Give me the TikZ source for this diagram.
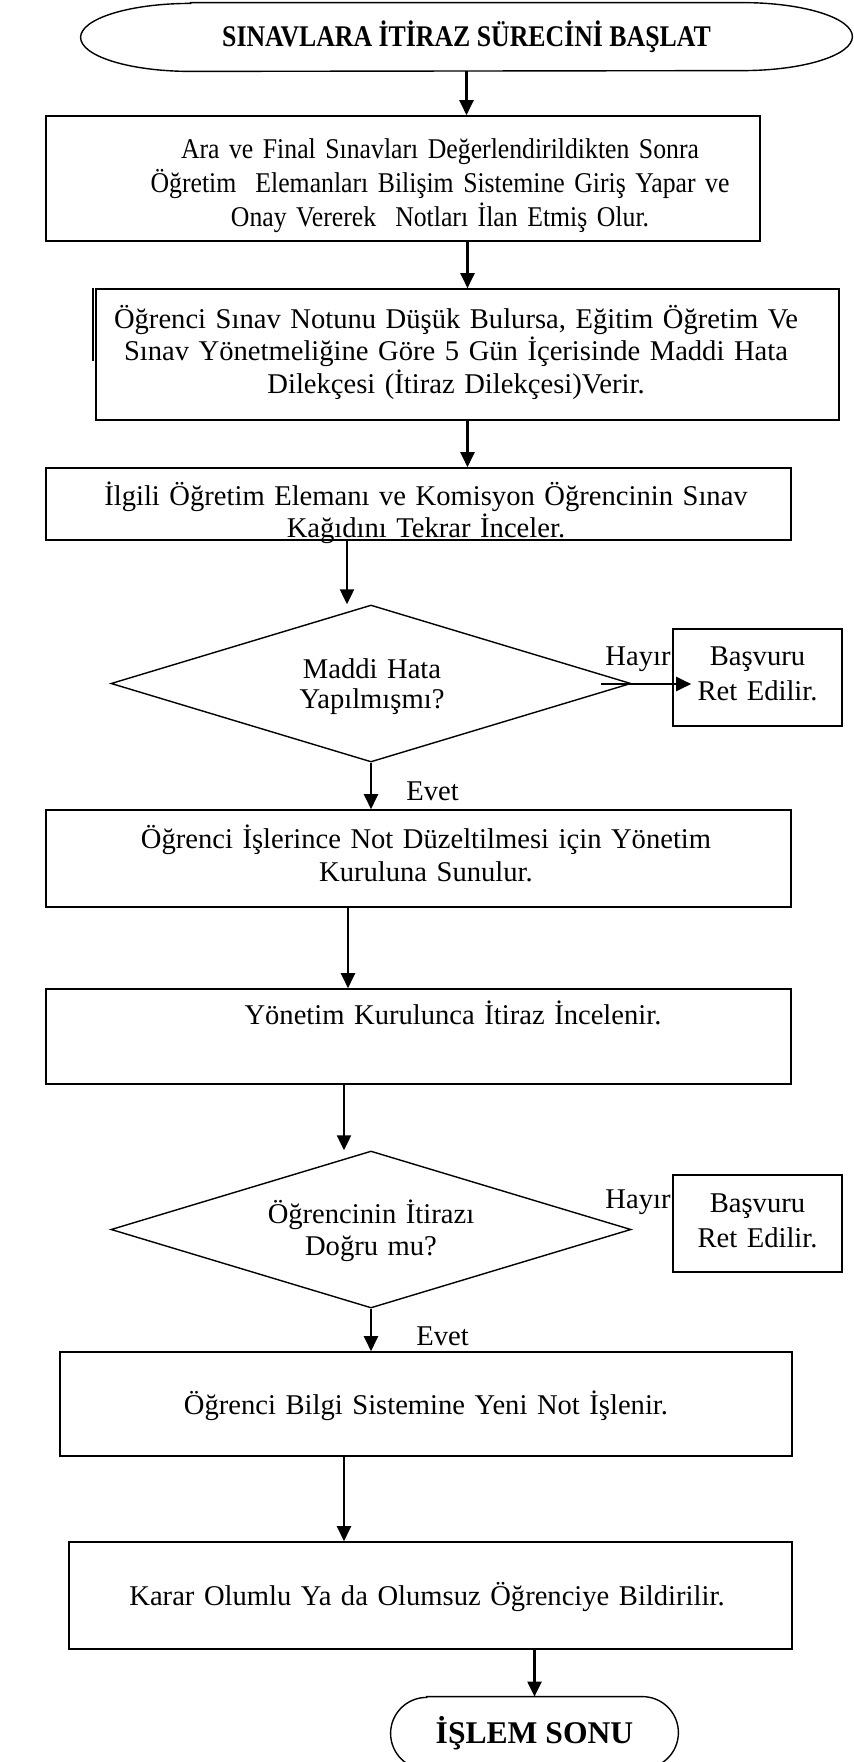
\documentclass[tikz,border=0pt]{standalone}
\usepackage{fontspec}
\setmainfont{Liberation Serif}
\newfontfamily\narrowserif{Liberation Serif}[FakeStretch=0.9]
\newfontfamily\titleserif{Liberation Serif}[FakeStretch=0.86]
\usetikzlibrary{arrows.meta,shapes.geometric}
\begin{document}
\begin{tikzpicture}[x=0.5pt,y=-0.5pt,
  boxline/.style={draw, line width=0.8pt, inner sep=0pt},
  diamondline/.style={draw, diamond, line width=0.7pt, inner sep=0pt},
  termline/.style={line width=0.7pt},
  txt/.style={font=\fontsize{14.3}{16.5}\selectfont, text width=380pt, align=center, anchor=base, inner sep=0pt},
  lbl/.style={font=\fontsize{14.3}{16.5}\selectfont, anchor=base, inner sep=0pt},
  arr/.style={line width=1.1pt, -{Triangle[length=7.5pt,width=7pt]}}]
\useasboundingbox (0,0) rectangle (854,1762);

% start terminator
\node[inner sep=0pt, minimum width=385.5pt, minimum height=34pt,
      font=\titleserif\bfseries\fontsize{15}{17}\selectfont] (start) at (466.5,37) {SINAVLARA İTİRAZ SÜRECİNİ BAŞLAT};
\draw[termline] ([xshift=55pt]start.north west) -- ([xshift=-55pt]start.north east)
  arc[start angle=90,end angle=-90,x radius=55pt,y radius=17pt]
  -- ([xshift=55pt]start.south west)
  arc[start angle=270,end angle=90,x radius=55pt,y radius=17pt] -- cycle;

% process boxes
\node[boxline, minimum width=357pt, minimum height=62.5pt] (b1) at (403,178.5) {};
\node[txt, font=\narrowserif\fontsize{14.3}{17}\selectfont] (b1t) at (440,158)
  {Ara ve Final Sınavları Değerlendirildikten Sonra\\Öğretim\ \ Elemanları Bilişim Sistemine Giriş Yapar ve\\Onay Vererek\ \ Notları İlan Etmiş Olur.};

\node[boxline, minimum width=371.5pt, minimum height=65.5pt] (b2) at (467.5,354.5) {};
\draw[line width=0.8pt] ([xshift=-1.2pt]b2.north west) -- ++(0,73);
\node[txt, font=\fontsize{14.3}{16.25}\selectfont] (b2t) at (456,328)
  {Öğrenci Sınav Notunu Düşük Bulursa, Eğitim Öğretim Ve\\Sınav Yönetmeliğine Göre 5 Gün İçerisinde Maddi Hata\\Dilekçesi (İtiraz Dilekçesi)Verir.};

\node[boxline, minimum width=372.5pt, minimum height=36pt] (b3) at (418.5,504) {};
\node[txt, font=\fontsize{14.3}{16}\selectfont] (b3t) at (426,505)
  {İlgili Öğretim Elemanı ve Komisyon Öğrencinin Sınav\\Kağıdını Tekrar İnceler.};

% first decision
\node[diamondline, minimum width=260pt, minimum height=78.5pt] (d1) at (371,683.5) {};
\node[txt, font=\fontsize{14.3}{15}\selectfont] (d1t) at (372,678) {Maddi Hata\\Yapılmışmı?};
\node[boxline, minimum width=84.5pt, minimum height=48.5pt] (r1) at (757.5,677.5) {};
\node[txt, font=\fontsize{14.3}{17.5}\selectfont] (r1t) at (757.5,665) {Başvuru\\Ret Edilir.};
\node[lbl] (h1) at (638,665) {Hayır};
\node[lbl, anchor=base west] (e1) at (406,800) {Evet};
\coordinate (h1s) at (601,684);

\node[boxline, minimum width=372.5pt, minimum height=48.5pt] (b4) at (418.5,858.5) {};
\node[txt] (b4t) at (426,848) {Öğrenci İşlerince Not Düzeltilmesi için Yönetim\\Kuruluna Sunulur.};

\node[boxline, minimum width=372.5pt, minimum height=47.5pt] (b5) at (418.5,1036.5) {};
\node[txt] (b5t) at (453,1024) {Yönetim Kurulunca İtiraz İncelenir.};

% second decision
\node[diamondline, minimum width=260pt, minimum height=78.5pt] (d2) at (371,1229.5) {};
\node[txt, font=\fontsize{14.3}{16}\selectfont] (d2t) at (371,1223) {Öğrencinin İtirazı\\Doğru mu?};
\node[boxline, minimum width=84.5pt, minimum height=48.5pt] (r2) at (757.5,1223.5) {};
\node[txt, font=\fontsize{14.3}{17.5}\selectfont] (r2t) at (757.5,1212) {Başvuru\\Ret Edilir.};
\node[lbl] (h2) at (638,1208) {Hayır};
\node[lbl, anchor=base west] (e2) at (416,1345) {Evet};

\node[boxline, minimum width=366pt, minimum height=52pt] (b6) at (426,1404) {};
\node[txt] (b6t) at (426,1414) {Öğrenci Bilgi Sistemine Yeni Not İşlenir.};

\node[boxline, minimum width=361.5pt, minimum height=53.5pt] (b7) at (430.5,1595.5) {};
\node[txt] (b7t) at (427,1605) {Karar Olumlu Ya da Olumsuz Öğrenciye Bildirilir.};

% end terminator
\node[inner sep=0pt, minimum width=143.5pt, minimum height=36pt,
      font=\bfseries\fontsize{15.8}{18}\selectfont] (stop) at (534.5,1733) {İŞLEM SONU};
\draw[termline] ([xshift=18pt]stop.north west) -- ([xshift=-18pt]stop.north east)
  arc[start angle=90,end angle=-90,radius=18pt]
  -- ([xshift=18pt]stop.south west)
  arc[start angle=270,end angle=90,radius=18pt] -- cycle;

% connectors
\draw[arr] (start.south) -- (start.south |- b1.north);
\draw[arr] (b2.north |- b1.south) -- (b2.north);
\draw[arr] (b2.south) -- (b2.south |- b3.north);
\draw[arr] ([xshift=-35.75pt]b3.south) -- ([xshift=-35.75pt]b3.south |- d1.north);
\draw[arr, shorten >=-9.5pt] (h1s) -- (h1s -| r1.west);
\draw[arr] (d1.south) -- (d1.south |- b4.north);
\draw[arr] ([xshift=-35.25pt]b4.south) -- ([xshift=-35.25pt]b4.south |- b5.north);
\draw[arr] ([xshift=-37.25pt]b5.south) -- ([xshift=-37.25pt]b5.south |- d2.north);
\draw[arr] (d2.south) -- (d2.south |- b6.north);
\draw[arr] ([xshift=-41pt]b6.south) -- ([xshift=-41pt]b6.south |- b7.north);
\draw[arr] (stop.north |- b7.south) -- (stop.north);
\end{tikzpicture}
\end{document}
